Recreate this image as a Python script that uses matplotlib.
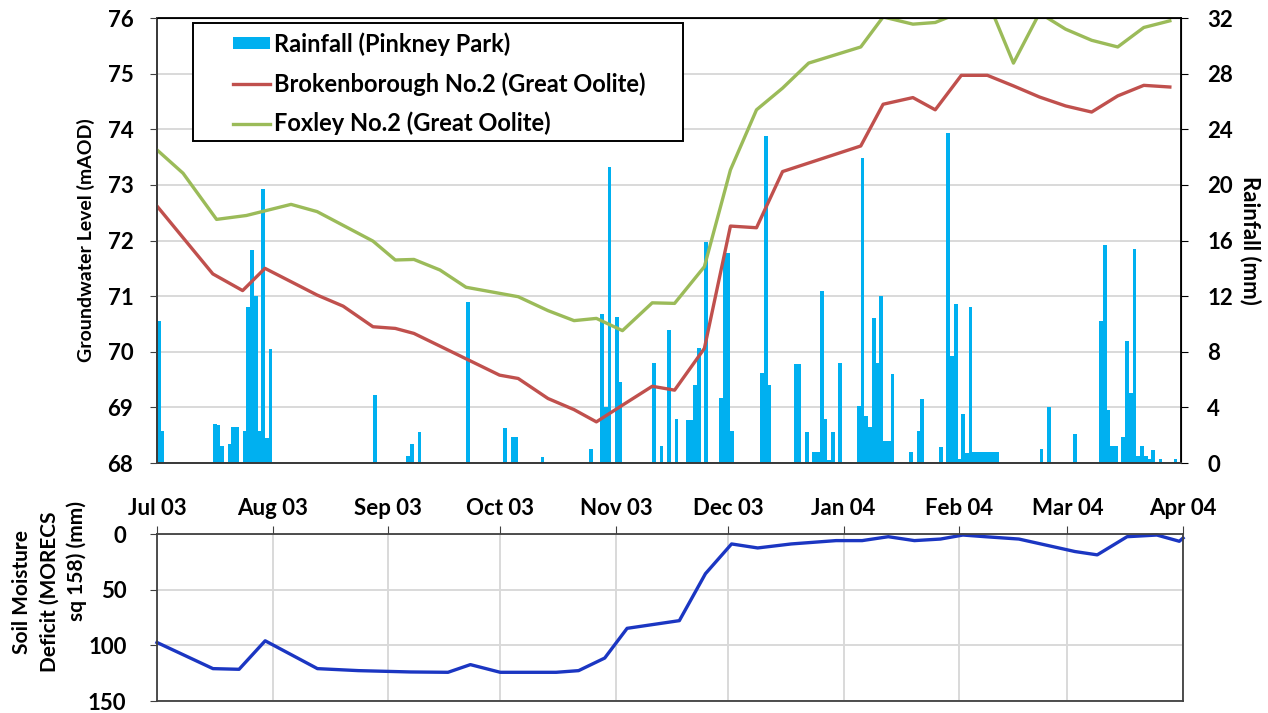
import pandas as pd
import matplotlib
matplotlib.use("Agg")
import matplotlib.pyplot as plt
from matplotlib.patches import Rectangle, Patch
from matplotlib.lines import Line2D

plt.rcParams["font.family"] = ["Lato", "DejaVu Sans"]

START = pd.Timestamp("2003-07-01")
END = pd.Timestamp("2004-04-01")

# daily rainfall at Pinkney Park (days since 1 Jul 2003, mm)
rain_day = [0, 1, 15, 16, 17, 19, 20, 21, 23, 24, 25, 26, 27, 28, 29, 30,
            50, 58, 66, 67, 68, 70, 83, 93, 95, 96, 103, 112, 116,
            119, 120, 121, 122, 123, 124, 127, 133, 134, 135, 137, 139,
            142, 143, 144, 145, 147, 150, 151, 152, 153, 154,
            162, 163, 164, 171, 172, 174, 176, 177, 178, 179, 180, 181, 183,
            188, 189, 190, 191, 192, 193, 194, 195, 196, 197,
            202, 204, 205, 210, 212, 213, 214, 215, 216, 217, 218,
            219, 220, 221, 222, 223, 224, 225,
            237, 239, 246, 253, 254, 255, 256, 257, 259, 260, 261, 262,
            263, 264, 265, 266, 267, 269, 273]
rain_mm = [10.2, 2.3, 2.8, 2.7, 1.2, 1.4, 2.6, 2.6, 2.3, 11.2, 15.3, 12.0, 2.3, 19.7, 1.8, 8.2,
           0.1, 4.9, 0.1, 0.5, 1.4, 2.2, 11.6, 2.5, 1.9, 1.9, 0.4, 0.1, 1.0,
           10.7, 4.0, 21.3, 0.1, 10.5, 5.8, 0.1, 7.2, 0.1, 1.25, 9.6, 3.2,
           3.1, 3.1, 5.6, 8.3, 15.9, 0.1, 4.7, 15.1, 15.1, 2.3,
           6.5, 23.5, 5.6, 7.1, 7.1, 2.2, 0.8, 0.8, 12.4, 3.2, 0.25, 2.2, 7.2,
           4.1, 21.9, 3.4, 2.6, 10.4, 7.2, 12.0, 1.6, 1.6, 6.4,
           0.8, 2.3, 4.6, 1.15, 23.7, 7.7, 11.4, 0.3, 3.5, 0.7, 11.2,
           0.77, 0.77, 0.77, 0.77, 0.77, 0.77, 0.77,
           1.0, 4.0, 2.1, 10.2, 15.7, 3.8, 1.25, 1.25, 1.9, 8.75, 5.0, 15.4,
           0.5, 1.25, 0.5, 0.3, 0.95, 0.3, 0.3]

# Brokenborough No.2 groundwater level (mAOD)
broken_day = [0, 15, 23, 29, 43, 50, 58, 64, 69, 92, 97, 105, 112, 118, 125,
              133, 139, 147, 154, 161, 168, 189, 195, 203, 209, 216, 223,
              230, 237, 244, 251, 258, 265, 272]
broken_level = [72.62, 71.40, 71.10, 71.50, 71.02, 70.82, 70.45, 70.42, 70.33,
                69.58, 69.52, 69.16, 68.96, 68.74, 69.04, 69.38, 69.31, 70.06,
                72.26, 72.23, 73.24, 73.70, 74.45, 74.57, 74.35, 74.97, 74.97,
                74.78, 74.58, 74.42, 74.31, 74.60, 74.79, 74.76]

# Foxley No.2 groundwater level (mAOD)
foxley_day = [0, 7, 16, 24, 36, 43, 58, 64, 69, 76, 83, 97, 105, 112, 118, 125,
              133, 139, 147, 154, 161, 168, 175, 189, 195, 203, 209, 216, 223,
              230, 237, 244, 251, 258, 265, 272]
foxley_level = [73.63, 73.21, 72.38, 72.45, 72.65, 72.52, 71.99, 71.65, 71.66,
                71.47, 71.16, 70.99, 70.74, 70.56, 70.60, 70.38, 70.88, 70.87,
                71.53, 73.27, 74.35, 74.74, 75.19, 75.48, 76.02, 75.89, 75.92,
                76.11, 76.32, 75.19, 76.09, 75.80, 75.60, 75.48, 75.83, 75.95]

# soil moisture deficit, MORECS square 158 (mm)
smd_day = [0, 15, 22, 29, 43, 54, 68, 78, 84, 92, 107, 113, 120, 124, 126,
           140, 147, 154, 161, 170, 182, 189, 196, 203, 210, 216, 222, 231,
           246, 252, 260, 268, 274, 275]
smd_mm = [97.4, 120.9, 121.5, 95.9, 120.9, 122.7, 123.9, 124.2, 117.3, 124.2,
          124.2, 122.7, 111.4, 93.6, 84.7, 77.8, 35.6, 8.9, 12.5, 8.9, 5.9,
          5.9, 2.4, 5.9, 4.5, 0.9, 2.4, 4.5, 15.7, 18.7, 2.4, 0.9, 6.5, 3.6]


def to_dates(days):
    return START + pd.to_timedelta(days, unit="D")


RAIN_C = "#00B0F0"
BROKEN_C = "#C0504D"
FOXLEY_C = "#9BBB59"
SMD_C = "#1B36C2"
GRID_C = "#D9D9D9"
SPINE_C = "#404040"
TICK_FS = 16
LABEL_FS = 14

months = pd.date_range(START, END, freq="MS")
month_labels = [d.strftime("%b %y") for d in months]

fig = plt.figure(figsize=(12.68, 7.13), dpi=100)
ax = fig.add_axes([0.1238, 0.3506, 0.8076, 0.6241])
ax_r = ax.twinx()
ax_b = fig.add_axes([0.1238, 0.0168, 0.8092, 0.2342])

# rainfall bars on the right-hand axis, kept underneath the level lines
ax.set_zorder(ax_r.get_zorder() + 1)
ax.patch.set_visible(False)
ax_r.bar(to_dates(rain_day), rain_mm, width=1, align="edge",
         color=RAIN_C, linewidth=0, zorder=2)
ax_r.set_ylim(0, 32)
ax_r.set_yticks(range(0, 33, 4), labels=[str(v) for v in range(0, 33, 4)],
                fontsize=TICK_FS, fontweight="bold")
ax_r.grid(True, color=GRID_C, linewidth=1.4, zorder=0)
ax_r.set_axisbelow(True)
ax_r.set_ylabel("Rainfall (mm)", rotation=270, fontsize=16,
                fontweight="bold", labelpad=20)

ax.plot(to_dates(broken_day), broken_level, color=BROKEN_C, lw=2.4,
        solid_joinstyle="round")
ax.plot(to_dates(foxley_day), foxley_level, color=FOXLEY_C, lw=2.4,
        solid_joinstyle="round")
ax.set_ylim(68, 76)
ax.set_yticks(range(68, 77), labels=[str(v) for v in range(68, 77)],
              fontsize=TICK_FS, fontweight="bold")
ax.set_ylabel("Groundwater Level (mAOD)", fontsize=LABEL_FS,
              fontweight="bold", labelpad=9)

for a in (ax, ax_r, ax_b):
    a.set_xlim(START, END)
    a.set_xticks(months)
ax.tick_params(axis="x", length=0, labelbottom=False)
ax.tick_params(axis="y", length=5, pad=12, color=SPINE_C)
ax_r.tick_params(axis="y", length=5, pad=14)
for s in ("left", "bottom"):
    ax.spines[s].set_color(SPINE_C)
    ax.spines[s].set_linewidth(1.3)
for s in ax_r.spines.values():
    s.set_linewidth(1.3)

# legend with a hand-drawn frame
ax.add_patch(Rectangle((0.035, 0.724), 0.479, 0.265, transform=ax.transAxes,
                       facecolor="white", edgecolor="black", lw=1.4,
                       zorder=5))
handles = [Patch(facecolor=RAIN_C, edgecolor="none"),
           Line2D([], [], color=BROKEN_C, lw=2.4),
           Line2D([], [], color=FOXLEY_C, lw=2.4)]
labels = ["Rainfall (Pinkney Park)", "Brokenborough No.2 (Great Oolite)",
          "Foxley No.2 (Great Oolite)"]
leg = ax.legend(handles, labels, loc="upper left",
                bbox_to_anchor=(0.070, 0.979), frameon=False,
                prop={"size": 17, "weight": "bold"},
                handlelength=1.57, handleheight=0.42, handletextpad=0.13,
                labelspacing=0.69, borderaxespad=0, borderpad=0.2)
leg.set_zorder(6)

# soil moisture deficit panel
ax_b.plot(to_dates(smd_day), smd_mm, color=SMD_C, lw=2.4, clip_on=False)
ax_b.set_ylim(150, 0)
ax_b.set_yticks([0, 50, 100, 150], labels=["0", "50", "100", "150"],
                fontsize=TICK_FS, fontweight="bold")
ax_b.grid(True, color=GRID_C, linewidth=1.4)
ax_b.set_axisbelow(True)
ax_b.xaxis.tick_top()
ax_b.set_xticks(months, labels=month_labels, fontsize=TICK_FS,
                fontweight="bold")
ax_b.tick_params(axis="x", length=6, pad=5, color=SPINE_C)
ax_b.tick_params(axis="y", length=5, pad=17, color=SPINE_C)
for s in ax_b.spines.values():
    s.set_color(SPINE_C)
    s.set_linewidth(1.3)

# the lower y title is wrapped over three lines, the last one sitting higher
smd_title = [("Soil Moisture", 22, 592), ("Deficit (MORECS", 50, 592),
             ("sq 158) (mm)", 77, 561)]
for text, px, py in smd_title:
    fig.text(px / 1268, 1 - py / 713, text, rotation=90, ha="center",
             va="center", fontsize=15, fontweight="bold")

fig.savefig("out.png", dpi=100)
